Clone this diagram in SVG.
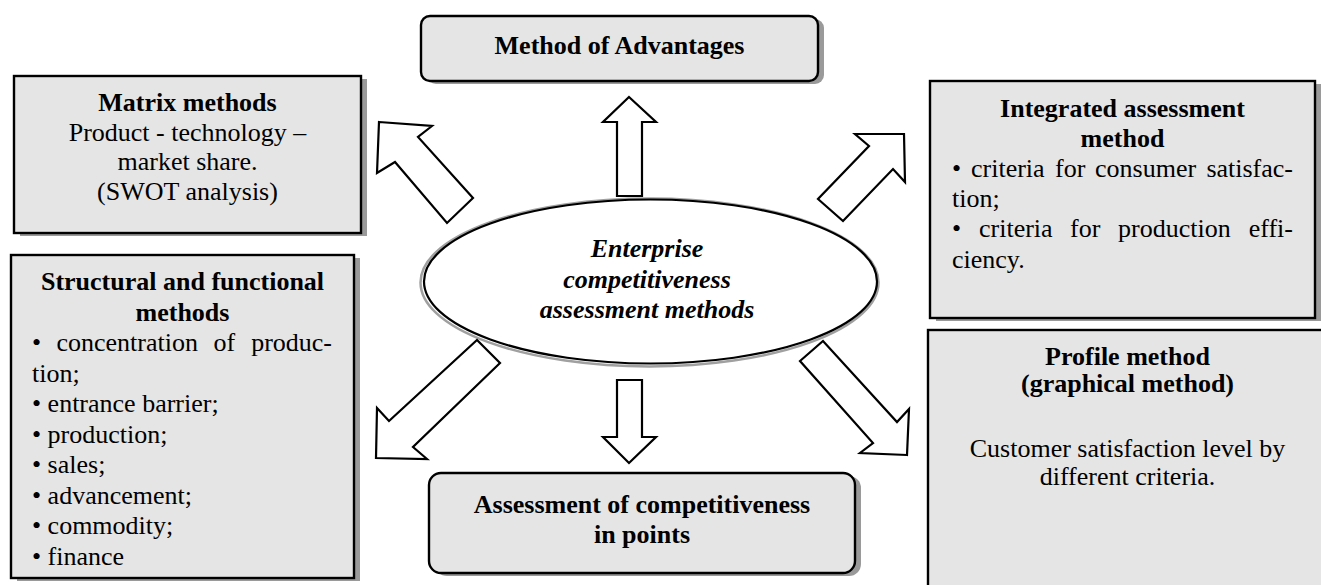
<svg xmlns="http://www.w3.org/2000/svg" width="1321" height="585" viewBox="0 0 1321 585" font-family="'Liberation Serif', 'Times New Roman', 'DejaVu Serif', serif">
<style>
.box{fill:#e5e5e5;stroke:#000;stroke-width:2.4}
.sh{fill:#9a9a9a}
.arr{fill:#fff;stroke:#000;stroke-width:2.2;stroke-linejoin:miter}
text{font-family:'Liberation Serif','Times New Roman','DejaVu Serif',serif;font-size:26px;fill:#000}
.b{font-weight:bold}
.c{text-anchor:middle}
.bi{font-weight:bold;font-style:italic}
</style>
<rect width="1321" height="585" fill="#fff"/>

<g id="node-advantages">
<rect class="sh" x="427" y="19" width="397" height="65" rx="9"/>
<rect class="box" x="421" y="16" width="397" height="65" rx="9"/>
<text class="b c" x="619.5" y="54">Method of Advantages</text>
</g>

<g id="node-matrix">
<rect class="sh" x="20" y="79" width="347" height="157"/>
<rect class="box" x="14" y="76" width="347" height="157"/>
<text class="c" x="187.5" y="111"><tspan class="b">Matrix methods</tspan><tspan x="187.5" y="141">Product - technology –</tspan><tspan x="187.5" y="170">market share.</tspan><tspan x="187.5" y="200">(SWOT analysis)</tspan></text>
</g>

<g id="node-integrated">
<rect class="sh" x="936" y="84" width="385" height="237"/>
<rect class="box" x="930" y="81" width="385" height="237"/>
<text class="b c" x="1122.5" y="117">Integrated assessment</text>
<text class="b c" x="1122.5" y="147">method</text>
<text y="177"><tspan x="952">•</tspan><tspan x="971">criteria</tspan><tspan x="1055">for</tspan><tspan x="1095">consumer</tspan><tspan x="1293" text-anchor="end">satisfac-</tspan></text>
<text x="952" y="207">tion;</text>
<text y="237"><tspan x="952">•</tspan><tspan x="979">criteria</tspan><tspan x="1070">for</tspan><tspan x="1118">production</tspan><tspan x="1293" text-anchor="end">effi-</tspan></text>
<text x="952" y="268">ciency.</text>
</g>

<g id="node-structural">
<rect class="sh" x="17" y="258" width="343" height="323"/>
<rect class="box" x="11" y="255" width="343" height="323"/>
<text class="b c" x="182.5" y="290">Structural and functional</text>
<text class="b c" x="182.5" y="320.5">methods</text>
<text y="351"><tspan x="32">•</tspan><tspan x="56.5">concentration</tspan><tspan x="213.5">of</tspan><tspan x="332" text-anchor="end">produc-</tspan></text>
<text x="32" y="381.5">tion;</text>
<text x="32" y="412">• entrance barrier;</text>
<text x="32" y="442.5">• production;</text>
<text x="32" y="473">• sales;</text>
<text x="32" y="503.5">• advancement;</text>
<text x="32" y="534">• commodity;</text>
<text x="32" y="564.5">• finance</text>
</g>

<g id="node-points">
<rect class="sh" x="435" y="476" width="426" height="100" rx="12"/>
<rect class="box" x="429" y="473" width="426" height="100" rx="12"/>
<text class="b c" x="642" y="513">Assessment of competitiveness</text>
<text class="b c" x="642" y="543">in points</text>
</g>

<g id="node-profile">
<rect class="box" x="928" y="330" width="420" height="300"/>
<text class="b c" x="1127.5" y="365">Profile method</text>
<text class="b c" x="1127.5" y="392">(graphical method)</text>
<text class="c" x="1127.5" y="457">Customer satisfaction level by</text>
<text class="c" x="1127.5" y="485">different criteria.</text>
</g>

<g id="node-center">
<ellipse cx="649.5" cy="282.5" rx="229" ry="84" fill="none" stroke="#a0a0a0" stroke-width="2.5"/>
<ellipse cx="650.5" cy="281.5" rx="226.5" ry="82" fill="#fff" stroke="#000" stroke-width="2.2"/>
<text class="bi c" x="647" y="257">Enterprise</text>
<text class="bi c" x="647" y="287.5">competitiveness</text>
<text class="bi c" x="647" y="318">assessment methods</text>
</g>

<g id="connectors">
<polygon class="arr" points="629,97 656,122 642,122 642,196 617,196 617,122 603,122"/>
<polygon class="arr" points="629,463 656,437 642,437 642,380 617,380 617,437 603,437"/>
<polygon class="arr" points="379,122 432,126 418,137 473,198 447,223 395,162 377,173"/>
<polygon class="arr" points="904,134 905,182 893,169 843,221 818,199 869,146 855,134"/>
<polygon class="arr" points="376,458 377,408 389,421 477,340 500,363 413,447 427,459"/>
<polygon class="arr" points="907,455 860,453 873,443 800,361 823,341 897,422 909,409"/>
</g>
</svg>
